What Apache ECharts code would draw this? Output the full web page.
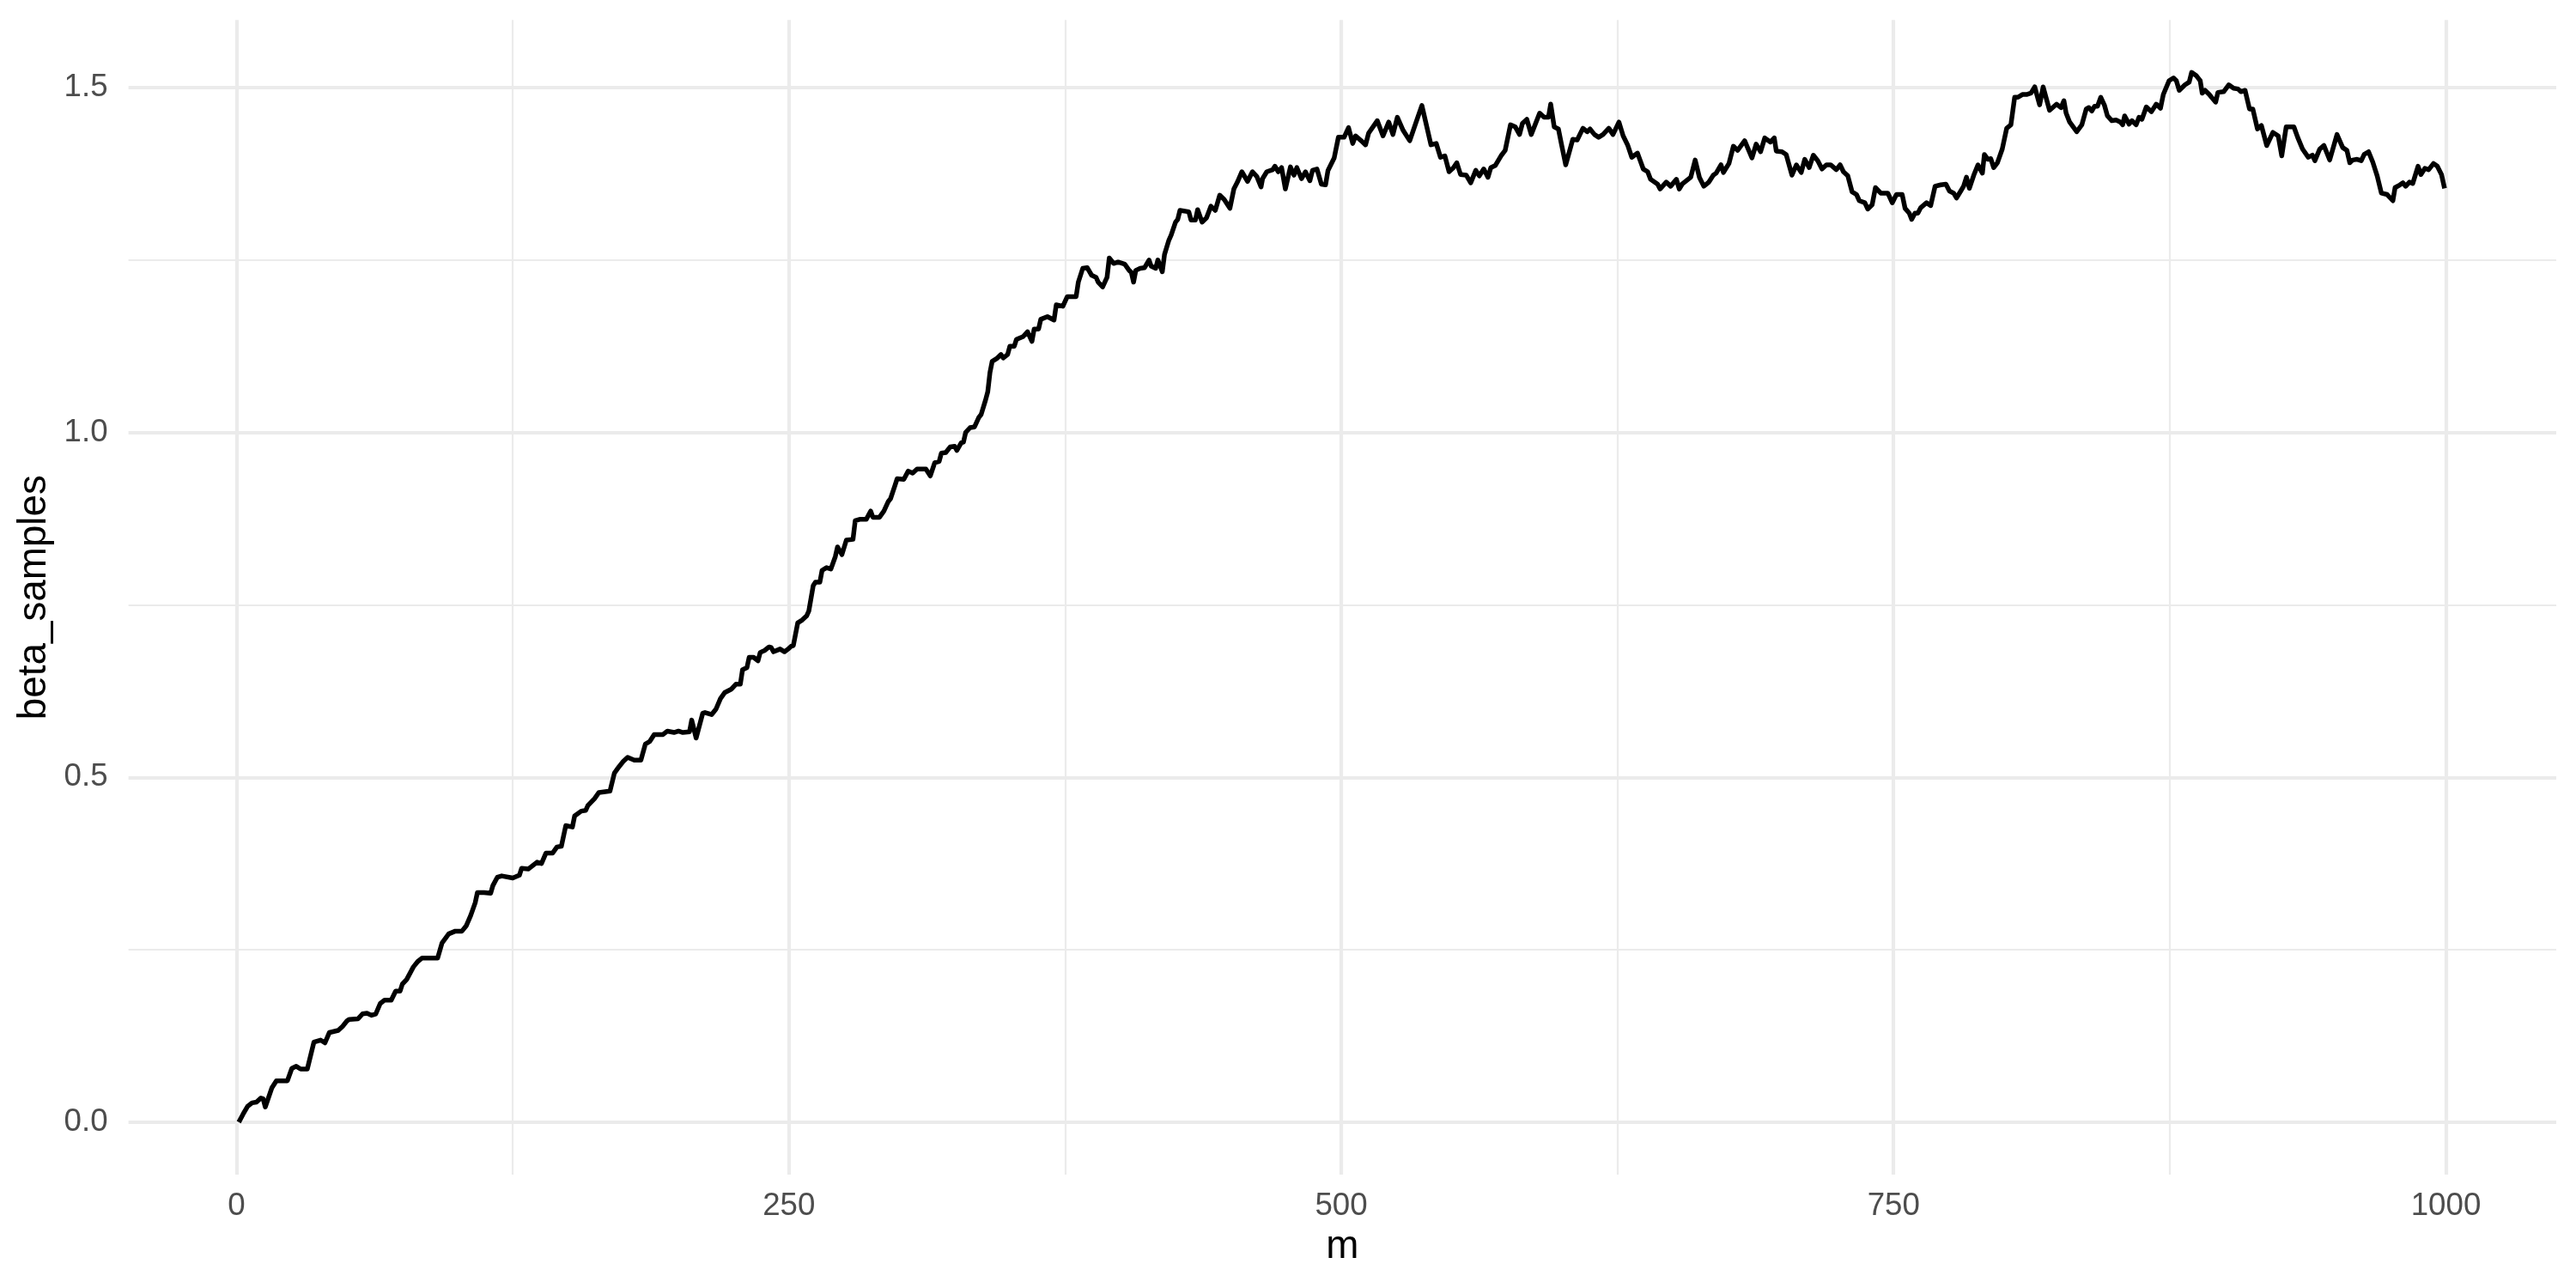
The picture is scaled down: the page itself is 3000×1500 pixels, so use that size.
<!DOCTYPE html>
<html>
<head>
<meta charset="utf-8">
<script src="https://cdn.jsdelivr.net/npm/echarts@6/dist/echarts.min.js"></script>
<style>
  html, body { margin: 0; padding: 0; background: #ffffff; }
  #chart { width: 3000px; height: 1500px; }
</style>
</head>
<body>
<div id="chart"></div>
<script>
// ---- data ----
const mValues = [
  1,3,5,7,9,11,12,13,16,18,23,25,27,29,32,35,38,40,42,46,48,50,51,55,57,59,61,63,65,67,70,72,74,75,
  77,80,82,84,91,93,96,99,102,104,106,108,109,112,115,116,118,120,125,128,129,132,134,136,138,140,143,145,147,149,152,153,156,158,159,162,164,169,171,173,175,177,180,183,185,187,189,193,195,198,200,202,205,206,208,211,212,215,217,219,221,224,226,228,229,231,232,234,236,237,239,241,242,243,246,248,250,
  251,252,254,256,258,259,261,262,264,265,267,269,271,272,274,276,279,280,282,285,287,288,291,293,295,296,298,299,302,304,306,308,312,314,316,318,319,321,323,325,326,328,329,330,332,334,336,337,339,340,341,342,344,346,347,349,350,352,353,356,358,360,361,363,364,367,370,371,374,376,380,381,383,385,387,389,390,392,394,395,397,399,402,404,405,406,407,409,411,413,414,416,417,419,420,422,423,425,426,427,431,432,434,435,437,439,441,443,
  445,447,449.6,451.4,453,455,457.6,459.8,461.8,463.7,464.4,466.3,469,470,471.5,473,474.7,477,478.6,479.9,482,483.8,485.8,487,489,491,492.9,494,496.8,
  498.7,501.3,503.3,505.2,506.5,509,511,512.4,516.3,518.9,521.5,523.4,525.4,528,531,533.9,536.5,540.6,543,544.9,546.9,548.8,550.8,552.3,554,556.6,558.6,560.9,562.5,564.5,566.4,567.7,569.7,572.3,574.2,576.6,578.8,580.7,582,584,586,589.8,591.8,593.8,594.8,596.4,598.3,599.6,601.6,602.9,604.8,606.8,609.4,611.3,612.6,614.6,616.5,618.5,621.1,623,625.7,627.6,629.6,631.5,634.1,636.7,638.7,640,643.2,644.3,647.1,649.1,651.7,653,654.3,658.2,660.2,662.1,664.1,
  666.4,668.4,669.7,671.9,673,675.5,677.5,679.4,682.6,685.9,687.8,689.8,691.7,694.3,696,696.9,699.5,701.4,704,706,708.2,709.8,711.8,713.7,715.7,717.6,719.6,721.5,724.1,725.8,727.3,729.3,731.2,733.2,734.5,737,738.3,740.3,741.8,744.2,747.4,749.4,751.3,753.9,755.2,757.1,758.2,759.7,761,762.3,764.9,766.8,768.8,771.4,773.7,775.3,777.2,778.5,780.4,781.7,783,784.3,786.3,788.2,790.2,791.1,792.7,794,795.3,797,799.2,801.2,803.1,804.8,806.3,808.3,810.2,812.2,813.9,816.1,817.7,820.6,823.8,825.8,827.1,828.1,829.7,832.9,
  835.2,837.2,838.4,839.7,841,842.3,843.8,845.5,846.8,848.8,850.7,852.7,853.7,854.6,856.6,857.9,859.8,861.1,862.4,864.4,866.7,868.9,870.8,872.1,874.7,876.7,878,879.3,881.9,883.8,884.9,887.1,888.8,889.7,891,892.9,893.9,895.8,896.8,899.4,901.7,903.9,905.9,907.2,909.1,911.1,912.6,914.7,916.5,918.9,921.7,924.1,925.7,927.7,929.9,931.2,932.9,935.1,937.7,939.6,940.7,942.9,944.8,947.4,949,950.7,953.3,955.2,956.5,957.8,959.8,961.7,963,965,966.9,968.9,970.8,973.4,976,977,979.2,980.5,981.8,983.5,985,987.4,988.7,990.5,992.2,994.4,996.1,998,999.4
];
const betaSamples = [
  0.000,0.012,0.023,0.028,0.029,0.035,0.034,0.022,0.050,0.060,0.060,0.078,0.081,0.077,0.077,0.116,0.119,0.115,0.130,0.133,0.139,0.147,0.149,0.150,0.157,0.158,0.155,0.157,0.172,0.177,0.177,0.190,0.190,0.200,
  0.207,0.225,0.233,0.238,0.238,0.260,0.273,0.277,0.277,0.285,0.300,0.318,0.333,0.333,0.332,0.343,0.355,0.357,0.354,0.358,0.368,0.367,0.372,0.377,0.375,0.390,0.390,0.399,0.400,0.430,0.428,0.444,0.451,0.452,0.459,0.469,0.478,0.480,0.506,0.515,0.523,0.529,0.525,0.525,0.548,0.552,0.562,0.562,0.567,0.565,0.567,0.565,0.566,0.583,0.557,0.593,0.594,0.591,0.599,0.614,0.623,0.628,0.635,0.635,0.656,0.659,0.674,0.674,0.669,0.681,0.684,0.689,0.688,0.682,0.686,0.682,0.687,
  0.690,0.691,0.724,0.728,0.734,0.741,0.778,0.783,0.783,0.800,0.804,0.802,0.820,0.834,0.823,0.844,0.845,0.872,0.874,0.874,0.886,0.877,0.877,0.886,0.900,0.904,0.923,0.933,0.932,0.944,0.941,0.947,0.947,0.937,0.956,0.958,0.970,0.971,0.979,0.980,0.974,0.985,0.986,1.000,1.007,1.008,1.022,1.026,1.047,1.059,1.087,1.103,1.107,1.113,1.108,1.113,1.125,1.125,1.135,1.139,1.146,1.132,1.150,1.150,1.164,1.168,1.163,1.185,1.183,1.197,1.197,1.218,1.238,1.239,1.228,1.225,1.218,1.211,1.225,1.253,1.245,1.247,1.244,1.235,1.232,1.218,1.235,1.238,1.239,1.250,1.241,1.238,1.250,1.233,1.258,1.279,1.286,1.305,1.309,1.322,1.320,1.308,1.308,1.323,1.305,1.311,1.328,1.322,
  1.344,1.338,1.325,1.353,1.363,1.378,1.364,1.378,1.371,1.356,1.368,1.378,1.381,1.386,1.378,1.384,1.353,1.385,1.373,1.384,1.368,1.378,1.365,1.380,1.382,1.360,1.359,1.380,1.398,
  1.428,1.428,1.442,1.419,1.430,1.423,1.417,1.434,1.452,1.430,1.450,1.432,1.457,1.438,1.423,1.450,1.474,1.417,1.419,1.399,1.401,1.378,1.384,1.391,1.374,1.373,1.362,1.380,1.372,1.382,1.370,1.384,1.387,1.401,1.409,1.446,1.443,1.432,1.448,1.454,1.432,1.463,1.457,1.457,1.476,1.443,1.440,1.419,1.388,1.403,1.425,1.424,1.441,1.436,1.440,1.432,1.428,1.432,1.441,1.432,1.450,1.430,1.417,1.399,1.405,1.382,1.378,1.367,1.360,1.353,1.363,1.357,1.367,1.353,1.360,1.370,1.395,1.370,1.357,
  1.363,1.373,1.376,1.388,1.377,1.390,1.415,1.409,1.423,1.398,1.418,1.407,1.427,1.421,1.427,1.408,1.407,1.403,1.373,1.388,1.377,1.396,1.384,1.402,1.394,1.382,1.388,1.388,1.381,1.388,1.378,1.372,1.349,1.345,1.336,1.333,1.324,1.330,1.355,1.347,1.347,1.333,1.345,1.345,1.325,1.318,1.309,1.318,1.318,1.326,1.333,1.329,1.357,1.359,1.360,1.350,1.347,1.340,1.350,1.357,1.370,1.354,1.373,1.388,1.376,1.403,1.396,1.397,1.384,1.391,1.411,1.441,1.446,1.486,1.486,1.490,1.490,1.492,1.501,1.475,1.501,1.467,1.476,1.471,1.481,1.463,1.450,1.436,
  1.446,1.469,1.471,1.466,1.473,1.473,1.486,1.474,1.459,1.452,1.453,1.450,1.446,1.459,1.447,1.452,1.446,1.457,1.454,1.472,1.465,1.476,1.470,1.490,1.510,1.514,1.510,1.496,1.504,1.508,1.522,1.517,1.510,1.492,1.496,1.490,1.486,1.479,1.493,1.494,1.504,1.499,1.498,1.494,1.496,1.469,1.469,1.440,1.445,1.416,1.435,1.430,1.401,1.443,1.443,1.443,1.428,1.411,1.399,1.402,1.394,1.411,1.416,1.395,1.413,1.432,1.413,1.409,1.391,1.395,1.396,1.394,1.403,1.407,1.392,1.372,1.347,1.345,1.336,1.355,1.359,1.362,1.357,1.363,1.361,1.386,1.374,1.383,1.381,1.390,1.386,1.374,1.354
];
const xMajorTicks = [0, 250, 500, 750, 1000];
const xMinorTicks = [125, 375, 625, 875];
const yMajorTicks = [0, 0.5, 1.0, 1.5];
const yMinorTicks = [0.25, 0.75, 1.25];
const xTitle = 'm';
const yTitle = 'beta_samples';

// ---- chart ----
const seriesData = mValues.map((m, i) => [m, betaSamples[i]]);
const FONT = '"Liberation Sans", Arial, Helvetica, sans-serif';
const X_MIN = -48.95, X_MAX = 1049.95;
const Y_MIN = -0.0761, Y_MAX = 1.598;

const chart = echarts.init(document.getElementById('chart'), null, { renderer: 'canvas' });
chart.setOption({
  animation: false,
  backgroundColor: '#ffffff',
  grid: { left: 149.6, right: 23, top: 23.3, bottom: 132 },
  xAxis: [
    {
      type: 'value', min: X_MIN, max: X_MAX, position: 'bottom',
      axisLine: { show: false },
      axisTick: { show: false, customValues: xMajorTicks },
      axisLabel: {
        customValues: xMajorTicks, color: '#4D4D4D', fontSize: 36.7, fontFamily: FONT, margin: 18,
        formatter: v => String(v)
      },
      splitLine: { show: true, lineStyle: { color: '#EBEBEB', width: 4.2 } },
      name: xTitle, nameLocation: 'middle', nameGap: 61,
      nameTextStyle: { color: '#000000', fontSize: 45.8, fontFamily: FONT }
    },
    {
      type: 'value', min: X_MIN, max: X_MAX, position: 'bottom',
      axisLine: { show: false },
      axisTick: { show: false, customValues: xMinorTicks },
      axisLabel: { show: false, customValues: xMinorTicks },
      splitLine: { show: true, lineStyle: { color: '#EBEBEB', width: 2.2 } }
    }
  ],
  yAxis: [
    {
      type: 'value', min: Y_MIN, max: Y_MAX, position: 'left',
      axisLine: { show: false },
      axisTick: { show: false, customValues: yMajorTicks },
      axisLabel: {
        customValues: yMajorTicks, color: '#4D4D4D', fontSize: 36.7, fontFamily: FONT, margin: 24,
        formatter: v => Number(v).toFixed(1)
      },
      splitLine: { show: true, lineStyle: { color: '#EBEBEB', width: 4.2 } },
      name: yTitle, nameLocation: 'middle', nameGap: 85, nameRotate: 90,
      nameTextStyle: { color: '#000000', fontSize: 45.8, fontFamily: FONT }
    },
    {
      type: 'value', min: Y_MIN, max: Y_MAX, position: 'left',
      axisLine: { show: false },
      axisTick: { show: false, customValues: yMinorTicks },
      axisLabel: { show: false, customValues: yMinorTicks },
      splitLine: { show: true, lineStyle: { color: '#EBEBEB', width: 2.2 } }
    }
  ],
  series: [
    {
      type: 'line', xAxisIndex: 0, yAxisIndex: 0,
      data: seriesData,
      showSymbol: false, symbol: 'none', smooth: false,
      lineStyle: { color: '#000000', width: 5.5, join: 'round', cap: 'butt' },
      z: 5
    }
  ]
});
</script>
</body>
</html>
